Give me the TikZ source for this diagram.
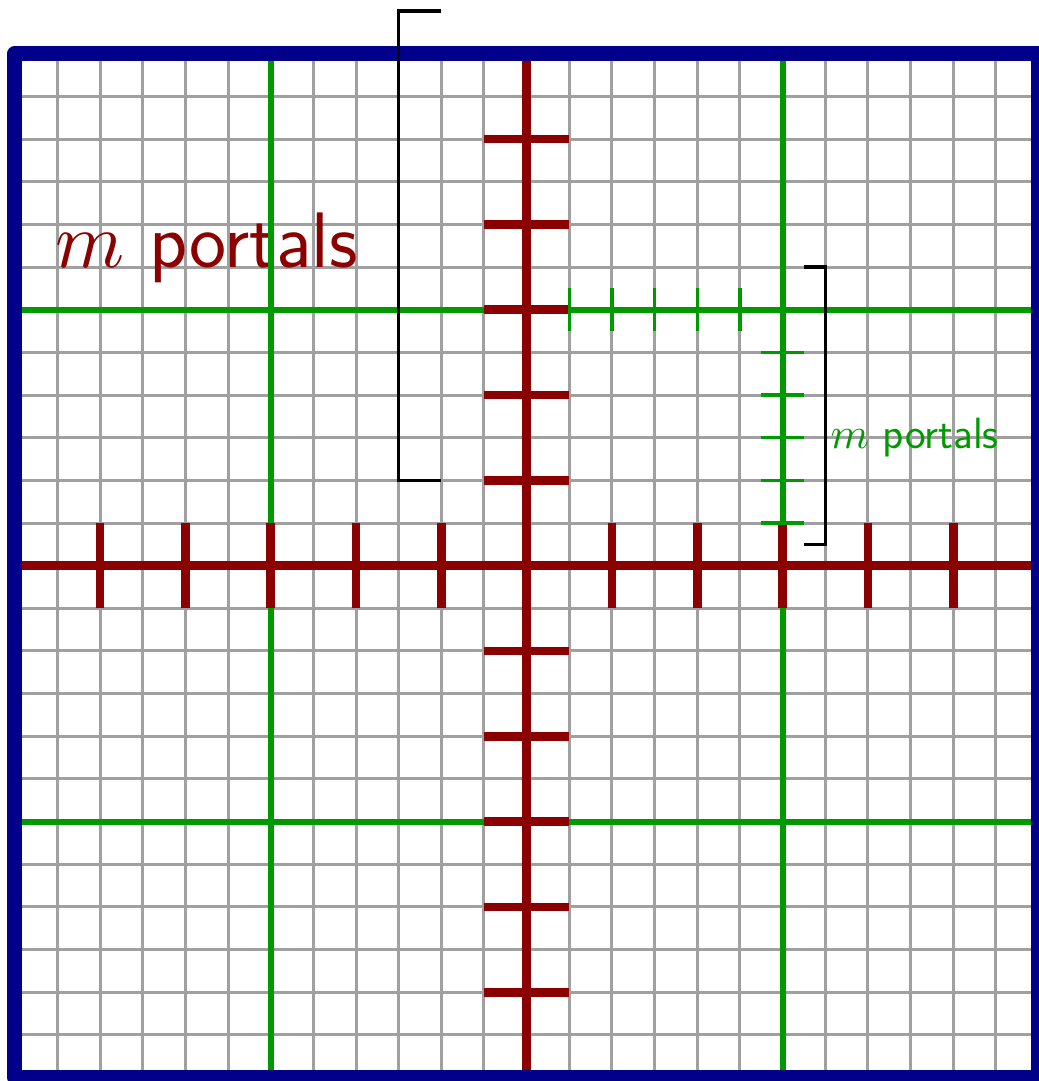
\documentclass[tikz,border=0pt]{standalone}
\DeclareFontShape{OML}{cmm}{m}{it}{<->cmmi10}{}
\definecolor{pred}{RGB}{139,0,0}
\definecolor{pgreen}{RGB}{0,153,0}
\definecolor{pblue}{RGB}{0,0,139}
\definecolor{pgray}{RGB}{160,160,160}
\begin{document}
\begin{tikzpicture}[
  gridline/.style={pgray, line width=2pt},
  greenline/.style={pgreen, line width=4pt},
  greentick/.style={pgreen, line width=2.2pt},
  redline/.style={pred, line width=5.7pt},
  frameline/.style={pblue, line width=10pt, line join=round},
  bracketline/.style={black, line width=2.2pt},
  bigtext/.style={anchor=base west, inner sep=0pt, text=pred, font=\fontsize{52.5}{63}\selectfont\sffamily},
  smalltext/.style={anchor=west, text=pgreen, font=\fontsize{29.2}{35}\selectfont\sffamily}
]
\useasboundingbox (-0.345,-0.08) rectangle (24,25.26);
\draw[gridline] (0,0) grid (24,24);
\node[bigtext] (bigm) at (0.95,19) {$m$ portals};
\foreach \v in {6,18} {
  \draw[greenline] (\v,0) -- (\v,24);
  \draw[greenline] (0,\v) -- (24,\v);
}
\draw[redline] (12,0) -- (12,24);
\draw[redline] (0,12) -- (24,12);
\foreach \t in {2,4,6,8,10,14,16,18,20,22} {
  \draw[redline] (11,\t) -- (13,\t);
  \draw[redline] (\t,11) -- (\t,13);
}
\foreach \t in {13,...,17} {
  \draw[greentick] (\t,17.5) -- (\t,18.5);
  \draw[greentick] (17.5,\t) -- (18.5,\t);
}
\draw[frameline] (0,0) rectangle (24,24);
\coordinate (la) at (10,25);
\coordinate (lb) at (10,14);
\coordinate (ra) at (18.5,19);
\coordinate (rb) at (18.5,12.5);
\draw[bracketline] (la) -- (9,25) -- (9,14) -- (lb);
\draw[bracketline] (ra) -- (19,19) -- (19,12.5) -- (rb);
\node[smalltext] (smallm) at (19,15) {$m$ portals};
\end{tikzpicture}
\end{document}
